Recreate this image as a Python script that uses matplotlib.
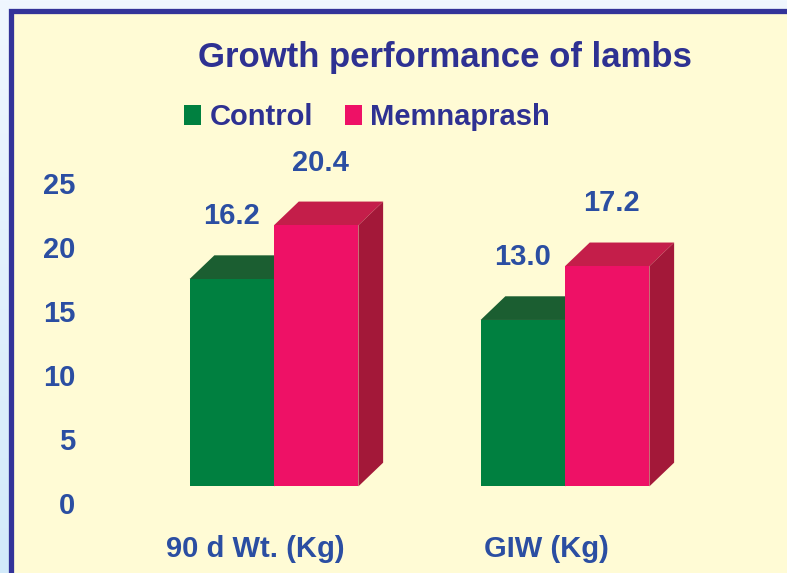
import numpy as np
import matplotlib
matplotlib.use('Agg')
import matplotlib.pyplot as plt
from matplotlib.patches import Polygon, Rectangle, Patch

# Data
categories = ['90 d Wt. (Kg)', 'GIW (Kg)']
series_names = ['Control', 'Memnaprash']
control = [16.2, 13.0]
memnaprash = [20.4, 17.2]
yticks = [0, 5, 10, 15, 20, 25]

front_colors = ['#008040', '#EE1166']
top_colors = ['#1B5E31', '#C41E4A']
side_colors = ['#14502A', '#A31839']
title_color = '#2E3192'
label_color = '#2B4EA2'

plt.rcParams['font.family'] = ['Liberation Sans', 'DejaVu Sans']
plt.rcParams['font.weight'] = 'bold'

fig = plt.figure(figsize=(7.87, 5.73), dpi=100)

# background: light blue gradient with framed yellow panel
bg = fig.add_axes([0, 0, 1, 1], zorder=-10)
grad = np.linspace(0, 1, 256).reshape(-1, 1)
bg.imshow(grad, aspect='auto', extent=[0, 1, 0, 1], origin='upper',
          cmap=matplotlib.colors.LinearSegmentedColormap.from_list('g', ['#F0F7FF', '#D2EAFA']))
bg.add_patch(Rectangle((10.5 / 787, -0.2), 1.2, 1.2 - 10.5 / 573,
                       facecolor='#FFFBD5', edgecolor='#333399', linewidth=3.8))
bg.set_xlim(0, 1)
bg.set_ylim(0, 1)
bg.axis('off')

ax = fig.add_axes([85 / 787, 0.0998, 702 / 787, 0.6255])
ax.set_xlim(-0.6495, 1.7629)
ax.set_ylim(-1, 27)
ax.patch.set_visible(False)
for s in ax.spines.values():
    s.set_visible(False)

x = np.arange(len(categories))
w = 0.29
base = 1.3
ddx, ddy = 0.085, 1.85

for k, vals in enumerate([control, memnaprash]):
    for i, v in enumerate(vals):
        x0 = x[i] - w + k * w
        x1 = x0 + w
        y0 = base
        y1 = base + v
        top = Polygon([(x0, y1), (x1, y1), (x1 + ddx, y1 + ddy), (x0 + ddx, y1 + ddy)],
                      closed=True, facecolor=top_colors[k], edgecolor='none')
        side = Polygon([(x1, y0), (x1 + ddx, y0 + ddy), (x1 + ddx, y1 + ddy), (x1, y1)],
                       closed=True, facecolor=side_colors[k], edgecolor='none')
        ax.add_patch(top)
        ax.add_patch(side)
        ax.add_patch(Rectangle((x0, y0), w, v, facecolor=front_colors[k], edgecolor='none'))
        ax.text(x0 + w / 2 + k * 0.015, v + 6.2, f'{v:.1f}', ha='center', va='center',
                fontsize=21, fontweight='bold', color=label_color)

ax.set_yticks(yticks)
ax.set_yticklabels([str(t) for t in yticks], fontsize=21, fontweight='bold', color=label_color)
ax.set_xticks(x - 0.065)
ax.set_xticklabels(categories, fontsize=21, fontweight='bold', color=label_color)
ax.tick_params(axis='y', length=0, pad=7)
ax.tick_params(axis='x', length=0, pad=14)

fig.text(445 / 787, 1 - 58 / 573, 'Growth performance of lambs', ha='center', va='center',
         fontsize=25, fontweight='bold', color=title_color)

handles = [Patch(facecolor=c, edgecolor='none') for c in front_colors]
leg = fig.legend(handles, series_names, loc='center', bbox_to_anchor=(367 / 787, 1 - 117 / 573),
                 ncol=2, frameon=False, handlelength=0.57, handleheight=0.7,
                 handletextpad=0.3, columnspacing=1.1,
                 prop={'size': 21, 'weight': 'bold'})
for t in leg.get_texts():
    t.set_color(title_color)

fig.savefig('out.png', dpi=100)
